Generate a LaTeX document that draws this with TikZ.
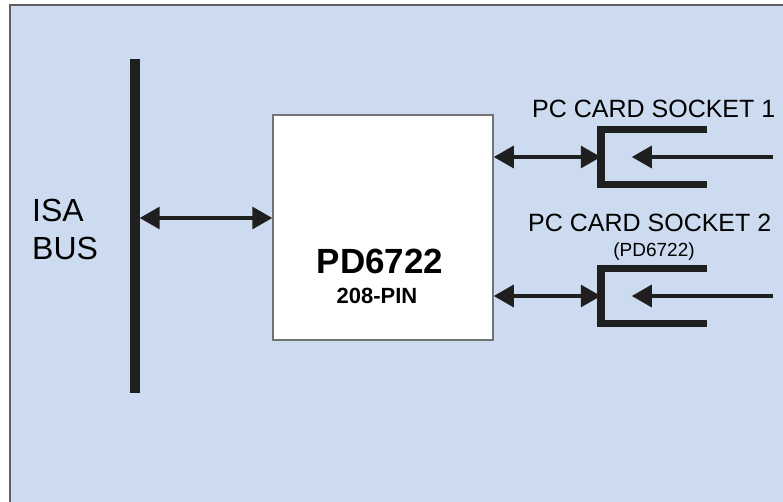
\documentclass[tikz,border=0pt]{standalone}
\usepackage{fontspec}
\setmainfont{Liberation Sans}
\usetikzlibrary{arrows.meta,positioning,calc}
\definecolor{boardblue}{RGB}{204,219,240}
\definecolor{framegray}{RGB}{95,95,95}

\begin{document}
\begin{tikzpicture}[x=1pt, y=-1pt,
    busbar/.style={rectangle, fill=black!88, minimum width=10pt,
                   minimum height=334pt, inner sep=0pt},
    chip/.style={rectangle, draw=black!55, line width=1.5pt, fill=white,
                 minimum width=220pt, minimum height=225pt, inner sep=0pt},
    socket/.style={rectangle, minimum width=106pt, minimum height=55pt, inner sep=0pt},
    bracket/.style={line width=7.5pt, black!88},
    arrow/.style={{Triangle[length=20pt,width=22pt]}-{Triangle[length=20pt,width=22pt]},
                  line width=3.2pt, black!88},
    inarrow/.style={-{Triangle[length=20pt,width=22pt]}, line width=3.2pt, black!88},
    label/.style={inner sep=0pt, font=\fontsize{25}{29}\selectfont}
]
\clip (0,0) rectangle (783,502);

% Board
\draw[framegray, line width=1.5pt, fill=boardblue] (10,5) rectangle (800,520);

% ISA bus
\node[busbar] (bus) at (134.5,226) {};
\node[inner sep=0pt, align=left, anchor=west, font=\fontsize{32}{38}\selectfont]
    (isa) at (32,229) {ISA\\BUS};

% Controller
\node[chip] (chip) at (383,227.5) {};
\node[anchor=base, font=\bfseries\fontsize{35}{40}\selectfont] (name) at (380,273) {PD6722};
\node[anchor=base, font=\bfseries\fontsize{22}{26}\selectfont] (pins) at (377,303) {208-PIN};

% Sockets
\node[socket] (sock1) at (654,157) {};
\node[socket] (sock2) at (654,296) {};
\node[label, anchor=base west] (sock1lbl) at (532,118) {PC CARD SOCKET 1};
\node[label, anchor=base west] (sock2lbl) at (528,232) {PC CARD SOCKET 2};
\node[anchor=base, inner sep=0pt, font=\fontsize{19}{22}\selectfont] (sock2sub) at (654,257) {(PD6722)};

\draw[bracket] (sock1.north east) -- (sock1.north west) -- (sock1.south west) -- (sock1.south east);
\draw[bracket] (sock2.north east) -- (sock2.north west) -- (sock2.south west) -- (sock2.south east);

% Cards
\coordinate (card1) at (773,157);
\coordinate (card2) at (773,296);
\coordinate (tip1) at ([xshift=31pt]sock1.west);
\coordinate (tip2) at ([xshift=31pt]sock2.west);

% Arrows
\coordinate (chipin) at ([yshift=9.5pt]chip.west);
\draw[arrow] (bus.east |- chipin) -- (chipin);
\draw[arrow] (chip.east |- sock1.west) -- (sock1.west);
\draw[arrow] (chip.east |- sock2.west) -- (sock2.west);
\draw[inarrow] (card1) -- (tip1);
\draw[inarrow] (card2) -- (tip2);

\end{tikzpicture}
\end{document}
